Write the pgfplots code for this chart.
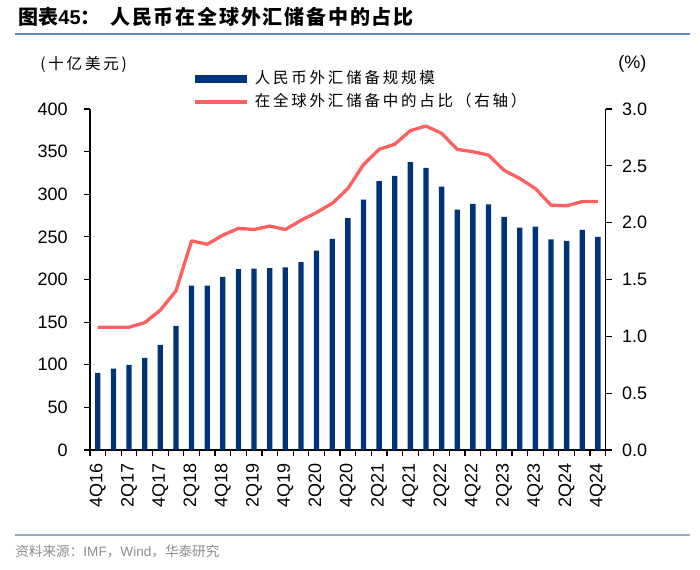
\documentclass[border=0pt]{standalone}
\usepackage{pgfplots}
\pgfplotsset{compat=1.18}
\usepackage{pgfplotstable}
\usepackage{fontspec}
\setmainfont{Liberation Sans}
\newfontfamily\cjk{Noto Sans CJK SC}
\newfontfamily\cjksp{Noto Sans CJK SC}[LetterSpace=18]
\newfontfamily\cjktitle{Noto Sans CJK SC}[LetterSpace=9]
\definecolor{barblue}{HTML}{003478}
\definecolor{linered}{HTML}{FF5F5F}
\definecolor{titleline}{HTML}{5B8AC6}
\definecolor{footline}{HTML}{93AACB}
\definecolor{footgray}{HTML}{8C8C8C}

\pgfplotstableread{
idx amount share
0  90.5  1.08
1  95.6  1.08
2  99.9  1.08
3  108.0 1.12
4  123.4 1.23
5  145.7 1.40
6  192.7 1.84
7  192.7 1.81
8  203.0 1.89
9  212.3 1.95
10 212.7 1.94
11 213.5 1.97
12 214.3 1.94
13 220.5 2.02
14 233.8 2.09
15 247.6 2.17
16 271.9 2.30
17 293.8 2.51
18 315.4 2.645
19 321.6 2.69
20 337.7 2.81
21 331.0 2.85
22 309.1 2.786
23 282.1 2.645
24 288.7 2.624
25 288.0 2.595
26 273.5 2.46
27 260.9 2.389
28 262.1 2.30
29 247.2 2.154
30 245.2 2.148
31 258.2 2.186
32 250.0 2.186
}\datatable

\begin{document}
\begin{tikzpicture}
\path (0,0) rectangle (350pt,284.5pt);
% title
\node[anchor=west, inner sep=0pt] at (9pt,276pt) {\fontsize{10pt}{12pt}\selectfont{\cjk\bfseries 图表}\textbf{45}{\cjk\bfseries ：}};
\node[anchor=west, inner sep=0pt] at (55pt,276pt) {\fontsize{10pt}{12pt}\selectfont\cjktitle\bfseries 人民币在全球外汇储备中的占比};
\draw[titleline, line width=1pt] (7.5pt,267.5pt) -- (345pt,267.5pt);
% units
\node[anchor=west, inner sep=0pt] at (20pt,252.5pt) {\fontsize{7.75pt}{9pt}\selectfont\cjksp (十亿美元)};
\node[anchor=west, inner sep=0pt] at (309pt,252.5pt) {\fontsize{9pt}{10pt}\selectfont (\%)};
% footer
\draw[footline, line width=1pt] (7.5pt,17pt) -- (345pt,17pt);
\node[anchor=west, inner sep=0pt, text=footgray] at (7.5pt,8.65pt) {\fontsize{6.8pt}{8pt}\selectfont{\cjk 资料来源：}IMF{\cjk ，}Wind{\cjk ，华泰研究}};

\begin{axis}[
  at={(45pt,59.5pt)}, anchor=south west,
  scale only axis, width=257.85pt, height=170.5pt,
  xmin=-0.5, xmax=32.5, ymin=0, ymax=400,
  ytick={0,50,...,400},
  xtick={0,2,...,32},
  xticklabels={4Q16,2Q17,4Q17,2Q18,4Q18,2Q19,4Q19,2Q20,4Q20,2Q21,4Q21,2Q22,4Q22,2Q23,4Q23,2Q24,4Q24},
  minor xtick={-0.5,0.5,...,32.5},
  axis x line*=bottom, axis y line*=left,
  axis line style={black, line width=0.6pt, -},
  tick align=outside,
  major tick length=3pt, minor tick length=3pt,
  tick style={black, line width=0.6pt},
  major x tick style={draw=none},
  ticklabel style={font=\fontsize{9pt}{10pt}\selectfont},
  xticklabel style={rotate=90, anchor=east, inner sep=0pt},
  yticklabel style={anchor=east, inner sep=0pt},
  xticklabel shift=3.5pt,
  yticklabel shift=8pt,
  /pgf/number format/assume math mode=true,
  legend style={at={(0.2000,1.111)}, anchor=north west, draw=none, fill=none,
    inner sep=0pt, row sep=3.55pt, column sep=3pt,
    font=\fontsize{7.75pt}{9pt}\selectfont\cjksp,
    nodes={inner sep=0pt, text height=6pt, text depth=1.75pt}},
  legend cell align=left,
  clip=false,
]
\addplot[ybar, bar width=2.65pt, fill=barblue, draw=none,
  legend image code/.code={\fill[barblue] (0pt,-2pt) rectangle (26pt,2pt);}]
  table[x=idx, y=amount]{\datatable};
\addlegendentry{人民币外汇储备规规模}
\addlegendimage{legend image code/.code={\draw[linered, line width=1.65pt] (0pt,0pt) -- (26pt,0pt);}}
\addlegendentry{在全球外汇储备中的占比（右轴）}
\end{axis}

\begin{axis}[
  at={(45pt,59.5pt)}, anchor=south west,
  scale only axis, width=257.85pt, height=170.5pt,
  xmin=-0.5, xmax=32.5, ymin=0, ymax=3,
  ytick={0,0.5,...,3},
  axis y line*=right, axis x line=none,
  axis line style={black, line width=0.6pt, -},
  tick align=outside,
  major tick length=3pt,
  tick style={black, line width=0.6pt},
  ticklabel style={font=\fontsize{9pt}{10pt}\selectfont},
  yticklabel style={anchor=west, inner sep=0pt,
    /pgf/number format/.cd, fixed, fixed zerofill, precision=1},
  yticklabel shift=5pt,
  /pgf/number format/assume math mode=true,
  clip=false,
]
\addplot[linered, line width=1.65pt, line join=round] table[x=idx, y=share]{\datatable};
\end{axis}
\end{tikzpicture}
\end{document}
